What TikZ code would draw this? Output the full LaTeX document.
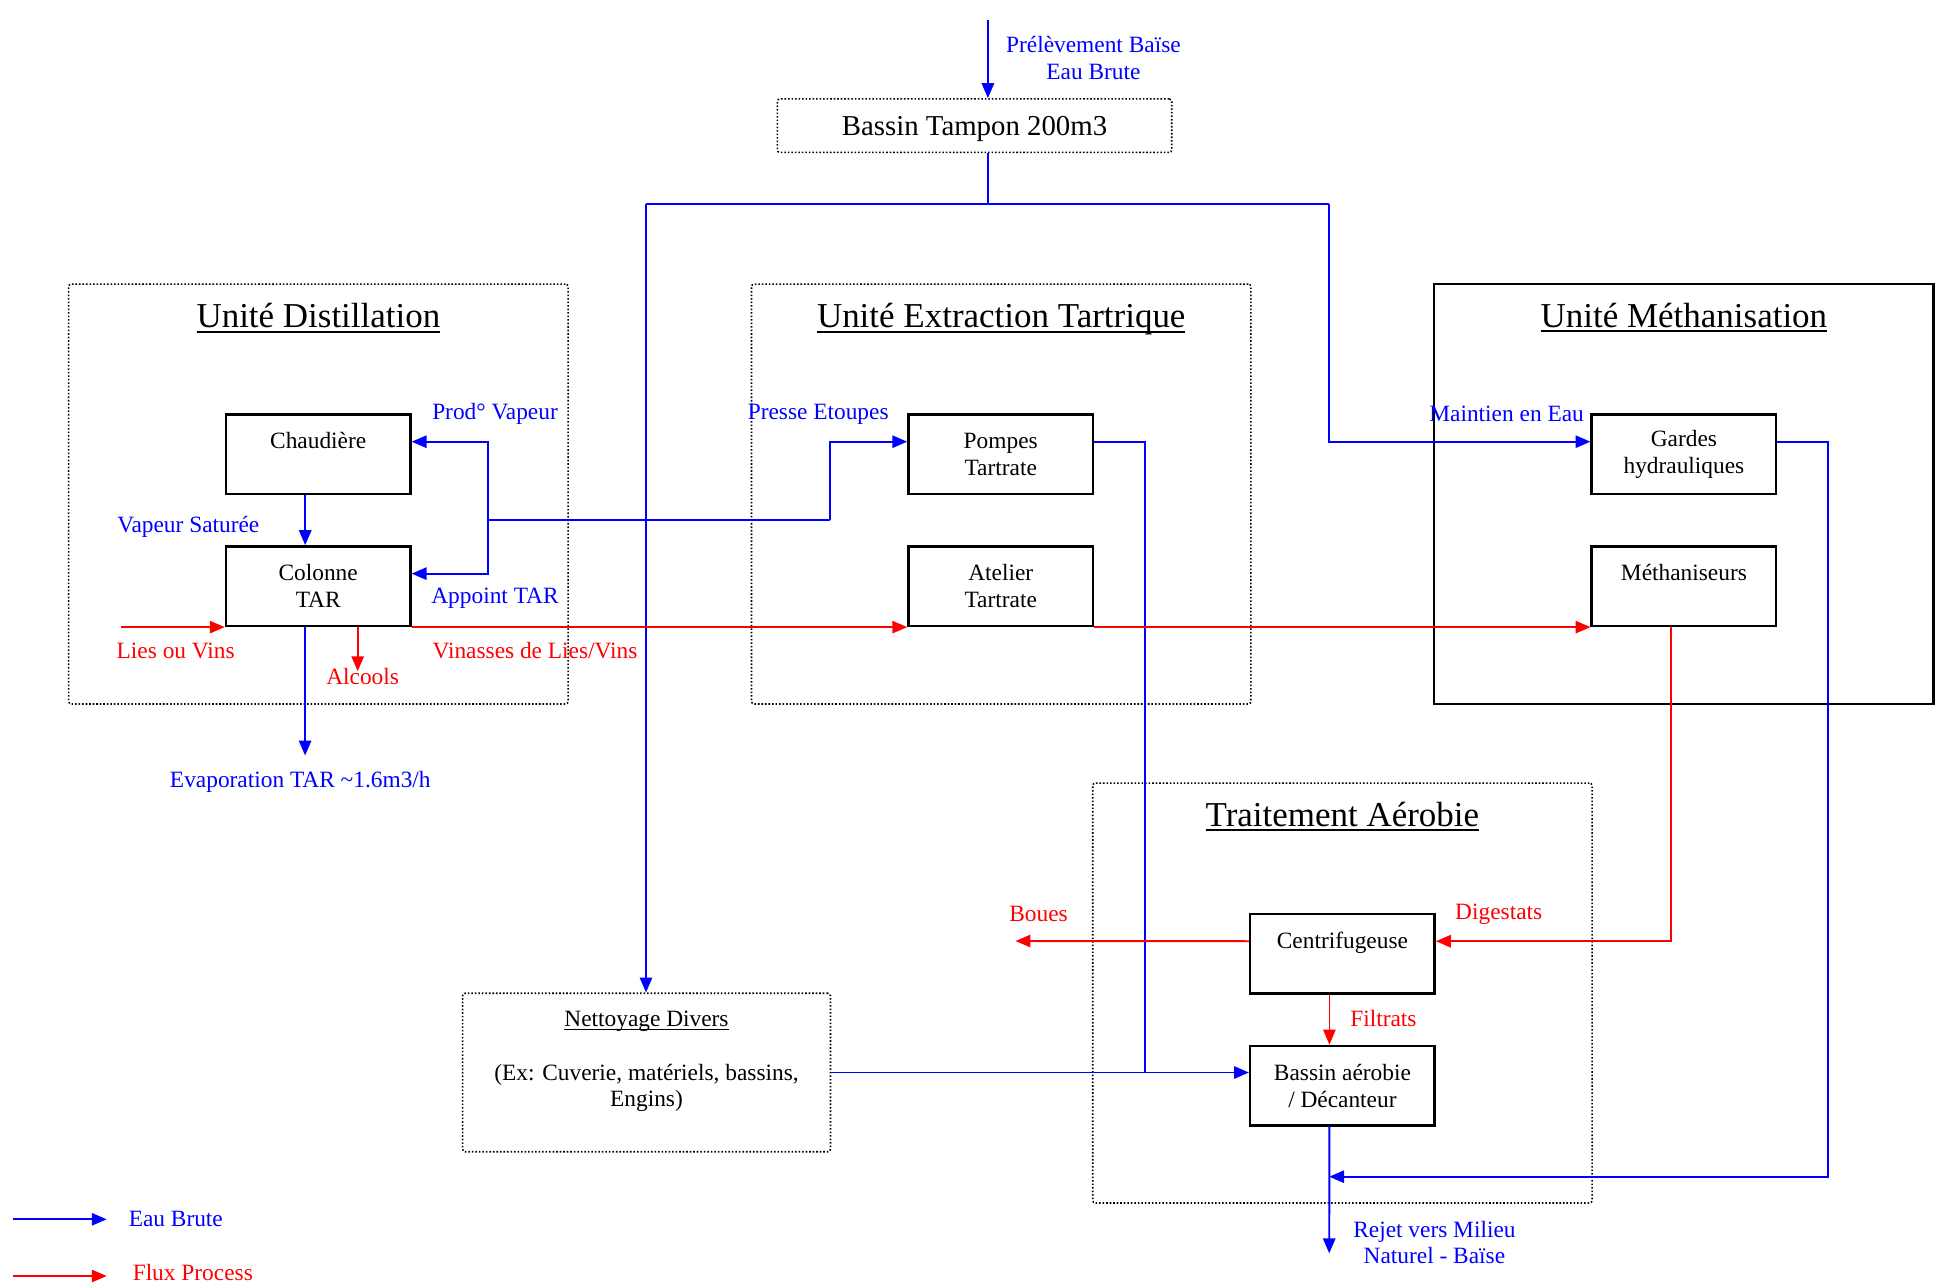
\documentclass[tikz,border=0pt]{standalone}
\usepackage{fontspec}
\setmainfont{Liberation Serif}
\usepackage{tikz}
\usetikzlibrary{arrows.meta,positioning}
\newcommand{\lblfont}{\fontsize{13.3}{15.2}\selectfont}
\newcommand{\ttlfont}{\fontsize{19.9}{23}\selectfont}
\newcommand{\souligne}[3]{%
  \setbox0\hbox{#3}\leavevmode\rlap{\rule[-#1]{\wd0}{#2}}\box0}
\tikzset{
  procbox/.style={draw, line width=1.4pt, minimum width=3.69cm, minimum height=1.59cm,
                  inner sep=0pt, align=center, font=\lblfont},
  zone/.style={draw, line width=0.9pt, dash pattern=on 0.9pt off 1.1pt, rounded corners=1.5pt,
               minimum width=9.99cm, minimum height=8.4cm, inner sep=0pt},
  eau/.style={draw=blue, line width=1.1pt},
  flux/.style={draw=red, line width=1.1pt},
  bluelbl/.style={text=blue, font=\lblfont, align=center, inner sep=0pt},
  redlbl/.style={text=red, font=\lblfont, align=center, inner sep=0pt},
  ttl/.style={font=\ttlfont, inner sep=0pt, anchor=base},
}
\begin{document}
\begin{tikzpicture}[x=0.02cm, y=-0.02cm, >={Triangle[length=8.5pt,width=7pt]}]
  \useasboundingbox (0,0) rectangle (1939,1285);

  % unites
  \node[zone] (distFrame) at (318.4,494) {};
  \node[zone] (extrFrame) at (1001.2,494) {};
  \node[zone, solid, rounded corners=0pt, line width=1.4pt] (methFrame) at (1683.9,494) {};
  \node[zone] (aeroFrame) at (1342.4,993) {};
  \node[ttl] (distTitle) at ([yshift=-0.89cm]distFrame.north) {\souligne{2.9pt}{1.1pt}{Unité Distillation}};
  \node[ttl] (extrTitle) at ([yshift=-0.89cm]extrFrame.north) {\souligne{2.9pt}{1.1pt}{Unité Extraction Tartrique}};
  \node[ttl] (methTitle) at ([yshift=-0.89cm]methFrame.north) {\souligne{2.9pt}{1.1pt}{Unité Méthanisation}};
  \node[ttl] (aeroTitle) at ([yshift=-0.88cm]aeroFrame.north) {\souligne{2.9pt}{1.1pt}{Traitement Aérobie}};

  \node[zone, minimum width=7.89cm, minimum height=1.07cm, text depth=0pt,
        font=\fontsize{16.4}{19}\selectfont] (bassin) at (974.5,125.7) {Bassin Tampon 200m3};
  \node[zone, minimum width=7.36cm, minimum height=3.17cm, align=center, font=\lblfont]
    (nett) at (646.5,1072.5)
    {\souligne{1.8pt}{0.7pt}{Nettoyage Divers}\\\mbox{}\\(Ex: Cuverie, matériels, bassins,\\Engins)\\\mbox{}};

  % equipements
  \node[procbox] (chaud) at (318.2,454.2) {Chaudière\\\mbox{}};
  \node[procbox, below=1.0cm of chaud] (col) {Colonne\\TAR};
  \node[procbox] (pompes) at (1000.7,454.2) {Pompes\\Tartrate};
  \node[procbox, below=1.0cm of pompes] (atelier) {Atelier\\Tartrate};
  \node[procbox] (gardes) at (1683.9,454.2) {Gardes\\hydrauliques};
  \node[procbox, below=1.0cm of gardes] (methan) {Méthaniseurs\\\mbox{}};
  \node[procbox] (centri) at (1342.4,953.7) {Centrifugeuse\\\mbox{}};
  \node[procbox, below=1.0cm of centri] (aerob) {Bassin aérobie\\/ Décanteur};

  % eau brute
  \coordinate (src) at (987.9,20);
  \coordinate (busL) at (646,204);
  \coordinate (busM) at (987.9,204);
  \coordinate (busR) at (1329.3,204);
  \coordinate (pv) at (488.2,520.3);
  \coordinate (pe) at (830,520.3);
  \coordinate (evap) at (305.1,755.5);
  \coordinate (pj) at (1145.1,1072.3);
  \coordinate (rj) at (1828.3,1176.7);
  \coordinate (rejet) at (1329.2,1253.3);
  \draw[eau,->] (src) -- (src |- bassin.north);
  \draw[eau] (src |- bassin.south) -- (busM);
  \draw[eau] (busL) -- (busR);
  \draw[eau,->] (busL) -- (busL |- nett.north);
  \draw[eau,->] (busR) |- ([yshift=0.25cm]gardes.west);
  \draw[eau] (pv) -- (pe);
  \draw[eau,->] (pv) |- ([yshift=0.25cm]chaud.east);
  \draw[eau,->] (pv) |- ([yshift=0.25cm]col.east);
  \draw[eau,->] (pe) |- ([yshift=0.25cm]pompes.west);
  \draw[eau,->] ([xshift=-0.26cm]chaud.south) -- ([xshift=-0.26cm]col.north);
  \draw[eau,->] (evap |- col.south) -- (evap);
  \draw[eau] ([yshift=0.25cm]pompes.east) -| (pj);
  \draw[eau,->] (nett.east) -- (nett.east -| aerob.west);
  \draw[eau,->] ([xshift=-0.26cm]aerob.south) -- (rejet);
  \draw[eau,->] ([yshift=0.25cm]gardes.east) -| (rj) -- (rj -| rejet);

  % flux process
  \coordinate (lies) at (120.8,625.3);
  \coordinate (alc) at (357.7,671.2);
  \coordinate (boues) at (1015.5,941);
  \draw[flux,->] (col.south west -| lies) -- (col.south west);
  \draw[flux,->] (col.south east) -- (atelier.south west);
  \draw[flux,->] (atelier.south east) -- (methan.south west);
  \draw[flux,->] (alc |- col.south) -- (alc);
  \draw[flux,->] ([xshift=-0.25cm]methan.south) |- ([yshift=0.25cm]centri.east);
  \draw[flux,->] ([yshift=0.25cm]centri.west) -- (boues);
  \draw[flux,->,line width=0.8pt] ([xshift=-0.26cm]centri.south) -- ([xshift=-0.26cm]aerob.north);

  % etiquettes
  \node[bluelbl] (prelev) at (1093.4,58.3) {Prélèvement Baïse\\Eau Brute};
  \node[bluelbl] (vapsat) at (188.3,526.5) {Vapeur Saturée};
  \node[bluelbl] (prodvap) at (495,414) {Prod° Vapeur};
  \node[bluelbl] (appoint) at (495,598) {Appoint TAR};
  \node[redlbl] (liesLbl) at (175.7,650.5) {Lies ou Vins};
  \node[redlbl] (alcLbl) at (362.6,676.3) {Alcools};
  \node[redlbl] (vinLbl) at (535,650.5) {Vinasses de Lies/Vins};
  \node[bluelbl] (evapLbl) at (300.3,782) {Evaporation TAR \textasciitilde1.6m3/h};
  \node[bluelbl] (presseLbl) at (818.2,414) {Presse Etoupes};
  \node[bluelbl] (maintLbl) at (1506.6,414) {Maintien en Eau};
  \node[redlbl] (bouesLbl) at (1038.5,914) {Boues};
  \node[redlbl] (digLbl) at (1498.7,914) {Digestats};
  \node[redlbl] (filtLbl) at (1383.4,1018.3) {Filtrats};
  \node[bluelbl] (rejetLbl) at (1434.4,1242.5) {Rejet vers Milieu\\Naturel - Baïse};

  % legende
  \coordinate (lgA) at (12.7,1219.3);
  \coordinate (lgB) at (106.7,1219.3);
  \coordinate (lgC) at (12.7,1276);
  \coordinate (lgD) at (106.7,1276);
  \draw[eau,->] (lgA) -- (lgB);
  \node[bluelbl] (lgEau) at (175.8,1219.3) {Eau Brute};
  \draw[flux,->] (lgC) -- (lgD);
  \node[redlbl] (lgFlux) at (192.8,1272.7) {Flux Process};

\end{tikzpicture}
\end{document}
